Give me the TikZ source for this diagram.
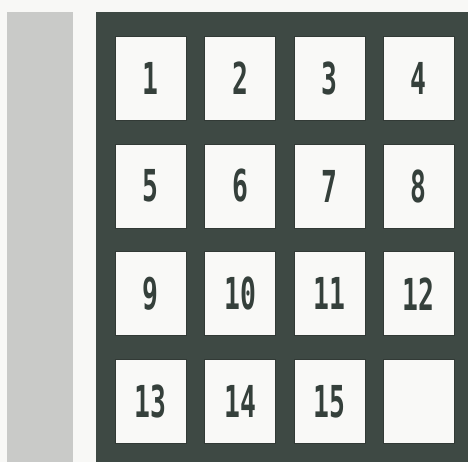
\documentclass[tikz,border=0pt]{standalone}
\usepackage{fontspec}
\usepackage{graphicx}
\newfontfamily\tilefont{DejaVu Sans Mono}
\definecolor{paper}{HTML}{F8F8F6}
\definecolor{board}{HTML}{3E4944}
\definecolor{strip}{HTML}{C9CAC8}
\definecolor{tilebg}{HTML}{F9F9F7}
\definecolor{digit}{HTML}{35403B}
\tikzset{
  tile/.style={draw=board!80!black, line width=0.6pt, fill=tilebg, minimum width=71pt, minimum height=84pt, inner sep=0pt, anchor=north west},
  num/.style={font=\tilefont\bfseries\fontsize{44}{44}\selectfont, text=digit}
}
\newcommand{\tilenum}[1]{\scalebox{0.6}[1]{#1}}
\begin{document}
\begin{tikzpicture}[x=1pt,y=-1pt]
\useasboundingbox (0,0) rectangle (468,462);
\fill[paper] (0,0) rectangle (468,462);
\fill[strip] (7,12) rectangle (73,462);
\fill[board] (96,12) rectangle (468,462);
\foreach \r in {0,1,2,3}{
  \foreach \c in {0,1,2,3}{
    \pgfmathtruncatemacro{\n}{\r*4+\c+1}
    \pgfmathsetmacro{\xx}{115+89.3*\c}
    \pgfmathsetmacro{\yy}{36+107.7*\r}
    \ifnum\n<16
      \node[tile] (t\n) at (\xx,\yy) {};
      \node[num] (n\n) at (t\n.center) {\tilenum{\n}};
    \else
      \node[tile] (t\n) at (\xx,\yy) {};
    \fi
  }
}
\end{tikzpicture}
\end{document}
